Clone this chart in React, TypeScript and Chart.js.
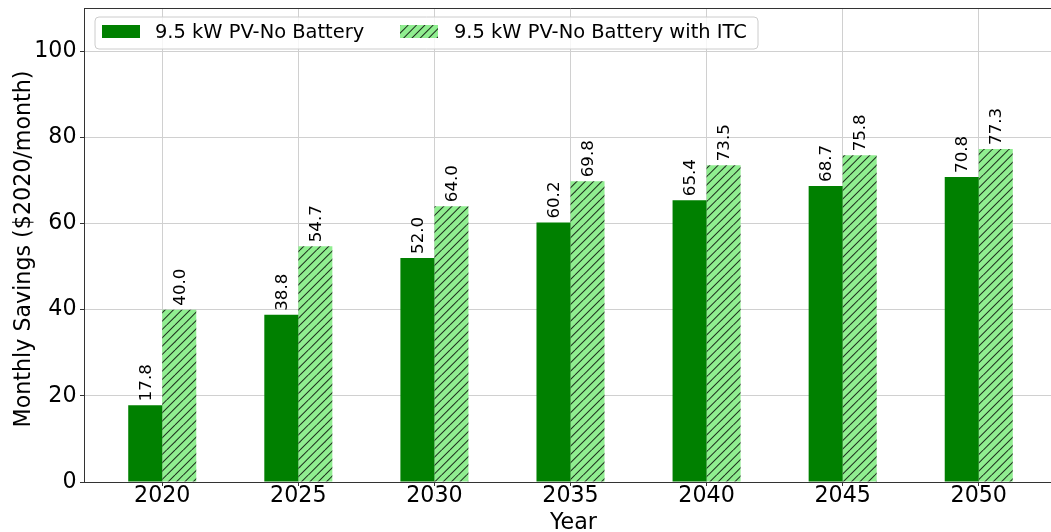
import React, { useEffect, useRef } from 'react';
import { Chart, registerables } from 'chart.js';

Chart.register(...registerables);

const years = ['2020', '2025', '2030', '2035', '2040', '2045', '2050'];
const noBattery = [17.8, 38.8, 52.0, 60.2, 65.4, 68.7, 70.8];
const withItc = [40.0, 54.7, 64.0, 69.8, 73.5, 75.8, 77.3];
const seriesNames = ['9.5 kW PV-No Battery', '9.5 kW PV-No Battery with ITC'];
const yTicks = [0, 20, 40, 60, 80, 100];
const yTitle = 'Monthly Savings ($2020/month)';
const xTitle = 'Year';

const FONT = '"DejaVu Sans", sans-serif';
const DARK = '#008000';
const LIGHT = '#90ee90';

function makeHatch(): CanvasPattern | string {
  const c = document.createElement('canvas');
  const s = 25;
  c.width = s;
  c.height = s;
  const g = c.getContext('2d');
  if (!g) return LIGHT;
  g.fillStyle = LIGHT;
  g.fillRect(0, 0, s, s);
  g.strokeStyle = 'rgba(0,0,0,0.8)';
  g.lineWidth = 1.05;
  const step = s / 3;
  for (let k = -4; k <= 4; k++) {
    const x0 = k * step;
    g.beginPath();
    g.moveTo(x0, s);
    g.lineTo(x0 + s, 0);
    g.stroke();
  }
  return g.createPattern(c, 'repeat') || LIGHT;
}

export default function App() {
  const ref = useRef<HTMLCanvasElement>(null);

  useEffect(() => {
    if (!ref.current) return;
    const hatch = makeHatch();

    const labelPlugin = {
      id: 'valueLabels',
      afterDatasetsDraw(chart: any) {
        const ctx = chart.ctx;
        ctx.save();
        ctx.font = `16.67px ${FONT}`;
        ctx.fillStyle = '#000';
        ctx.textAlign = 'left';
        ctx.textBaseline = 'alphabetic';
        chart.data.datasets.forEach((ds: any, di: number) => {
          const meta = chart.getDatasetMeta(di);
          meta.data.forEach((el: any, i: number) => {
            const v = ds.data[i].y as number;
            ctx.save();
            ctx.translate(el.x + 5.5, el.y - 4);
            ctx.rotate(-Math.PI / 2);
            ctx.fillText(v.toFixed(1), 0, 0);
            ctx.restore();
          });
        });
        ctx.restore();
      },
    };

    const framePlugin = {
      id: 'frameAndLegend',
      afterDraw(chart: any) {
        const { ctx, chartArea } = chart;
        ctx.save();
        // top spine
        ctx.strokeStyle = '#333';
        ctx.lineWidth = 1;
        ctx.beginPath();
        ctx.moveTo(chartArea.left, Math.round(chartArea.top) + 0.5);
        ctx.lineTo(chartArea.right, Math.round(chartArea.top) + 0.5);
        ctx.stroke();

        // axis titles
        ctx.font = `22.2px ${FONT}`;
        ctx.fillStyle = '#000';
        ctx.textAlign = 'center';
        ctx.textBaseline = 'alphabetic';
        ctx.fillText(xTitle, 573.5, 529);
        ctx.save();
        ctx.translate(30, 249);
        ctx.rotate(-Math.PI / 2);
        ctx.fillText(yTitle, 0, 0);
        ctx.restore();

        // legend
        const x0 = chartArea.left + 11;
        const y0 = chartArea.top + 9;
        const w = 663;
        const h = 32;
        const r = 4;
        ctx.beginPath();
        ctx.moveTo(x0 + r, y0);
        ctx.lineTo(x0 + w - r, y0);
        ctx.arcTo(x0 + w, y0, x0 + w, y0 + r, r);
        ctx.lineTo(x0 + w, y0 + h - r);
        ctx.arcTo(x0 + w, y0 + h, x0 + w - r, y0 + h, r);
        ctx.lineTo(x0 + r, y0 + h);
        ctx.arcTo(x0, y0 + h, x0, y0 + h - r, r);
        ctx.lineTo(x0, y0 + r);
        ctx.arcTo(x0, y0, x0 + r, y0, r);
        ctx.closePath();
        ctx.fillStyle = 'rgba(255,255,255,0.8)';
        ctx.fill();
        ctx.strokeStyle = '#cccccc';
        ctx.lineWidth = 1;
        ctx.stroke();

        ctx.fillStyle = DARK;
        ctx.fillRect(x0 + 7, y0 + 8, 38, 13);
        ctx.fillStyle = hatch as any;
        ctx.fillRect(x0 + 305, y0 + 8, 38, 13);

        ctx.font = `19.44px ${FONT}`;
        ctx.fillStyle = '#000';
        ctx.textAlign = 'left';
        ctx.textBaseline = 'alphabetic';
        ctx.fillText(seriesNames[0], x0 + 60, y0 + 21);
        ctx.fillText(seriesNames[1], x0 + 359, y0 + 21);
        ctx.restore();
      },
    };

    const chart = new Chart(ref.current, {
      type: 'bar',
      data: {
        datasets: [
          {
            label: seriesNames[0],
            data: noBattery.map((v, i) => ({ x: i, y: v })),
            backgroundColor: DARK,
            borderWidth: 0,
          },
          {
            label: seriesNames[1],
            data: withItc.map((v, i) => ({ x: i, y: v })),
            backgroundColor: hatch as any,
            borderWidth: 0,
          },
        ],
      },
      options: {
        animation: false,
        responsive: false,
        maintainAspectRatio: false,
        events: [],
        layout: { padding: { top: 8, left: 0, right: 0, bottom: 0 } },
        plugins: {
          legend: { display: false },
          tooltip: { enabled: false },
        },
        datasets: {
          bar: { categoryPercentage: 0.5, barPercentage: 1.0 },
        },
        scales: {
          x: {
            type: 'linear',
            min: -0.575,
            max: 6.575,
            offset: false,
            afterBuildTicks: (s: any) => {
              s.ticks = years.map((_, i) => ({ value: i }));
            },
            afterFit: (s: any) => {
              s.height = 50;
              s.paddingLeft = 0;
              s.paddingRight = 0;
              s.paddingTop = 0;
              s.paddingBottom = 0;
            },
            grid: {
              color: '#d0d0d0',
              offset: false,
              tickLength: 4,
              tickColor: '#333',
              lineWidth: 1,
            },
            border: { color: '#333', width: 1 },
            ticks: {
              callback: (v: any) => years[v] ?? '',
              font: { family: FONT, size: 22.2, lineHeight: 1 },
              color: '#000',
              padding: -0.5,
              maxRotation: 0,
              autoSkip: false,
              includeBounds: false,
            },
            title: { display: false },
          },
          y: {
            min: 0,
            max: 110,
            afterBuildTicks: (s: any) => {
              s.ticks = yTicks.map((v) => ({ value: v }));
            },
            afterFit: (s: any) => {
              s.width = 84;
              s.paddingTop = 0;
              s.paddingBottom = 0;
              s.paddingLeft = 0;
              s.paddingRight = 0;
            },
            grid: {
              color: '#d0d0d0',
              tickLength: 4,
              tickColor: '#333',
              lineWidth: 1,
            },
            border: { color: '#333', width: 1 },
            ticks: {
              font: { family: FONT, size: 22.2, lineHeight: 1 },
              color: '#000',
              padding: 3.5,
              includeBounds: false,
            },
            title: { display: false },
          },
        },
      } as any,
      plugins: [labelPlugin, framePlugin],
    });

    return () => chart.destroy();
  }, []);

  return (
    <div
      style={{
        position: 'fixed',
        left: 0,
        top: 0,
        width: 1051,
        height: 532,
        overflow: 'hidden',
        background: '#fff',
      }}
    >
      <canvas
        ref={ref}
        width={1057}
        height={532}
        style={{ display: 'block', width: 1057, height: 532 }}
      />
    </div>
  );
}
